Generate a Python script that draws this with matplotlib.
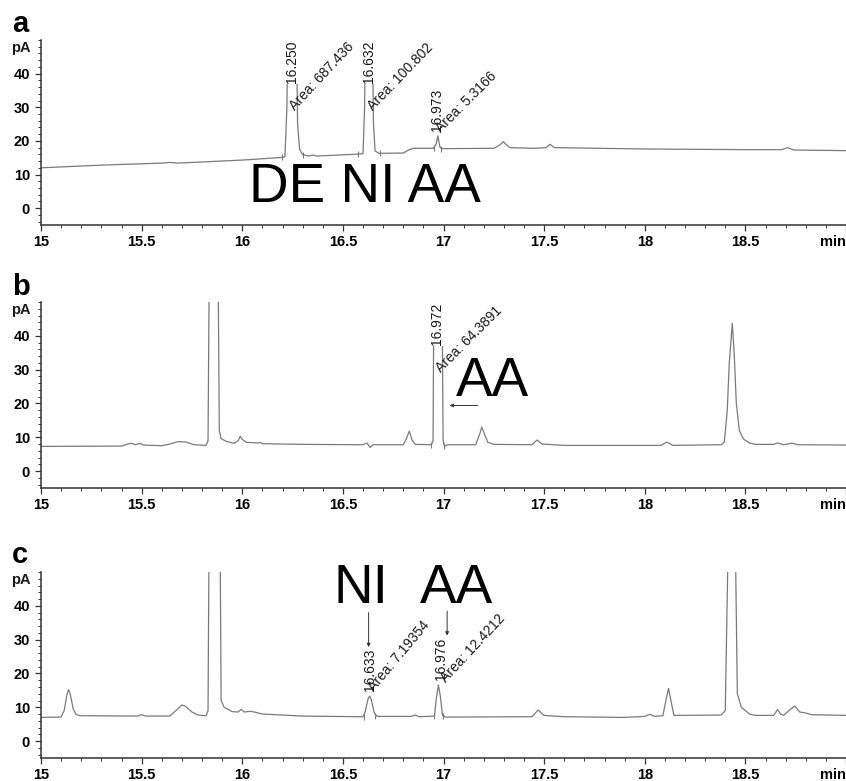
import numpy as np
import matplotlib
matplotlib.use('Agg')
import matplotlib.pyplot as plt
from matplotlib.ticker import MultipleLocator
import matplotlib.transforms as mtransforms

plt.rcParams['font.family'] = ['Liberation Sans', 'DejaVu Sans']

# ejes
xticks = [15, 15.5, 16, 16.5, 17, 17.5, 18, 18.5, 19]
xticklabels = ['15', '15.5', '16', '16.5', '17', '17.5', '18', '18.5', 'min']
yticks = [0, 10, 20, 30, 40]
yticklabels = ['0', '10', '20', '30', '40']

# traza a (tiempo en min, señal en pA)
t_a = [15.00, 15.30, 15.60, 15.64, 15.68, 16.00, 16.20, 16.212, 16.222, 16.228, 16.268,
       16.275, 16.285, 16.30, 16.33, 16.35, 16.37, 16.55, 16.60, 16.608, 16.613, 16.645,
       16.652, 16.66, 16.68, 16.80, 16.83, 16.85, 16.95, 16.963, 16.972, 16.982, 16.99,
       17.25, 17.28, 17.297, 17.31, 17.33, 17.45, 17.51, 17.53, 17.55, 18.00, 18.50,
       18.68, 18.71, 18.74, 19.00]
s_a = [12.0, 12.8, 13.4, 13.6, 13.4, 14.3, 15.1, 15.3, 30.0, 60.0, 60.0,
       25.0, 17.5, 15.9, 15.5, 15.8, 15.5, 16.0, 16.2, 30.0, 60.0, 60.0,
       25.0, 17.0, 16.3, 16.4, 17.4, 17.8, 17.8, 19.0, 21.5, 18.2, 17.7,
       17.8, 18.8, 19.8, 19.0, 18.0, 17.8, 18.0, 19.0, 18.0, 17.6, 17.4,
       17.4, 18.0, 17.3, 17.1]

# traza b
t_b = [15.00, 15.40, 15.43, 15.45, 15.47, 15.49, 15.51, 15.60, 15.64, 15.68, 15.72, 15.76,
       15.82, 15.830, 15.836, 15.880, 15.886, 15.895, 15.92, 15.96, 15.98, 15.99, 16.00,
       16.02, 16.08, 16.09, 16.10, 16.30, 16.60, 16.62, 16.635, 16.65, 16.80, 16.815,
       16.83, 16.845, 16.86, 16.94, 16.948, 16.953, 16.992, 16.998, 17.005, 17.02, 17.16,
       17.18, 17.19, 17.20, 17.22, 17.25, 17.44, 17.465, 17.49, 17.60, 18.08, 18.11,
       18.14, 18.38, 18.395, 18.41, 18.42, 18.435, 18.445, 18.455, 18.47, 18.49, 18.52,
       18.55, 18.64, 18.66, 18.69, 18.71, 18.73, 18.76, 19.00]
s_b = [7.3, 7.4, 8.0, 8.2, 7.8, 8.2, 7.7, 7.5, 8.0, 8.7, 8.6, 7.8,
       7.6, 9.0, 60.0, 60.0, 12.0, 9.6, 8.8, 8.2, 9.0, 10.3, 9.4,
       8.5, 8.3, 8.5, 8.1, 7.9, 7.8, 8.3, 7.0, 7.8, 7.8, 9.5,
       11.8, 9.0, 7.9, 7.8, 9.0, 60.0, 60.0, 9.0, 7.3, 7.8, 7.8,
       11.0, 13.0, 11.5, 8.5, 7.9, 7.8, 9.2, 8.0, 7.6, 7.6, 8.6,
       7.6, 7.8, 8.5, 18.0, 32.0, 43.7, 34.0, 20.0, 12.0, 9.5, 8.3,
       7.9, 7.9, 8.3, 7.8, 8.0, 8.3, 7.8, 7.7]

# traza c
t_c = [15.00, 15.10, 15.115, 15.13, 15.137, 15.145, 15.16, 15.175, 15.20, 15.48, 15.50,
       15.52, 15.64, 15.67, 15.70, 15.72, 15.75, 15.78, 15.82, 15.83, 15.835, 15.89,
       15.895, 15.91, 15.95, 15.98, 15.995, 16.01, 16.04, 16.06, 16.10, 16.30, 16.60,
       16.61, 16.625, 16.633, 16.64, 16.655, 16.67, 16.84, 16.86, 16.88, 16.955, 16.965,
       16.975, 16.985, 16.995, 17.01, 17.44, 17.47, 17.50, 17.60, 17.90, 18.00, 18.025,
       18.05, 18.09, 18.105, 18.118, 18.13, 18.145, 18.38, 18.40, 18.415, 18.45, 18.46,
       18.48, 18.52, 18.55, 18.64, 18.66, 18.675, 18.69, 18.72, 18.745, 18.77, 18.80,
       18.83, 19.00]
s_c = [7.0, 7.1, 9.0, 14.0, 15.2, 14.0, 9.5, 7.8, 7.5, 7.4, 7.8,
       7.4, 7.4, 9.0, 10.7, 10.2, 8.6, 7.7, 7.5, 9.0, 60.0, 60.0,
       12.0, 10.0, 8.7, 8.6, 9.4, 8.6, 8.8, 8.6, 8.0, 7.4, 7.2,
       8.5, 12.5, 13.3, 12.5, 8.5, 7.3, 7.3, 7.7, 7.2, 7.4, 13.0,
       16.6, 13.0, 7.6, 7.1, 7.2, 9.2, 7.6, 7.2, 7.0, 7.3, 7.9,
       7.3, 7.5, 12.0, 15.6, 12.0, 7.6, 7.7, 9.0, 60.0, 60.0, 14.0,
       10.0, 8.0, 7.6, 7.6, 9.3, 8.0, 7.6, 9.2, 10.4, 8.6, 8.3,
       7.8, 7.6]

# marcas de integracion
marcas_t_a = [16.198, 16.30, 16.575, 16.686, 16.955, 16.988]
marcas_s_a = [15.1, 15.9, 16.1, 16.3, 17.8, 17.7]
marcas_t_b = [16.94, 17.002]
marcas_s_b = [7.8, 7.5]
marcas_t_c = [16.603, 16.662, 16.952, 16.998]
marcas_s_c = [7.2, 7.3, 7.4, 7.5]

# etiquetas de tiempo de retencion: texto, tiempo, y, alineacion vertical
ret_a = [('16.250', 16.245, 49.8, 'top'), ('16.632', 16.628, 49.8, 'top'),
         ('16.973', 16.970, 22.8, 'bottom')]
ret_b = [('16.972', 16.970, 49.8, 'top')]
ret_c = [('16.633', 16.633, 14.8, 'bottom'), ('16.976', 16.990, 18.2, 'bottom')]

# etiquetas de area: texto, tiempo, y, angulo
area_a = [('Area: 687.436', 16.272, 28.3, 47), ('Area: 100.802', 16.660, 28.3, 46),
          ('Area: 5.3166', 16.997, 21.7, 45)]
area_b = [('Area: 64.3891', 16.997, 28.4, 45)]
area_c = [('Area: 7.19354', 16.668, 13.9, 50), ('Area: 12.4212', 17.022, 16.6, 47)]

# nombres de compuestos
nombres_a = [('DE NI AA', 16.032, 1.8)]
nombres_b = [('AA', 17.060, 22.1)]
nombres_c = [('NI', 16.454, 40.9), ('AA', 16.881, 40.9)]

# flechas: (x inicio, y inicio, x fin, y fin)
flechas_b = [(17.169, 19.4, 17.030, 19.4)]
flechas_c = [(16.628, 38.0, 16.628, 27.8), (17.018, 38.4, 17.018, 31.2)]

colorLinea = '#7a7a7a'
colorTexto = '#1a1a1a'


def dibujarPanel(ax, t, s, mt, ms, ret, area, nombres, flechas):
    ax.plot(t, s, color=colorLinea, lw=0.9, zorder=2)
    ax.plot(mt, ms, ls='none', marker='|', ms=5, mew=0.8, color=colorLinea, zorder=2)
    ax.set_xlim(15, 19)
    ax.set_ylim(-5, 50)
    for lado in ['top', 'right']:
        ax.spines[lado].set_visible(False)
    for lado in ['left', 'bottom']:
        ax.spines[lado].set_color('#333333')
        ax.spines[lado].set_linewidth(1.1)
    ax.set_xticks(xticks)
    ax.set_xticklabels(xticklabels, fontsize=10.5, fontweight='bold')
    ax.get_xticklabels()[-1].set_horizontalalignment('right')
    ax.set_yticks(yticks)
    ax.set_yticklabels(yticklabels, fontsize=10.5, fontweight='bold')
    ax.xaxis.set_minor_locator(MultipleLocator(0.1))
    ax.yaxis.set_minor_locator(MultipleLocator(2))
    ax.tick_params(which='major', length=4, width=0.9, color='#333333', pad=3)
    ax.tick_params(which='minor', length=2.2, width=0.7, color='#333333')
    ax.tick_params(axis='y', pad=4)
    trans = mtransforms.blended_transform_factory(ax.transAxes, ax.transData)
    ax.text(-0.013, 47.5, 'pA', transform=trans, ha='right', va='center',
            fontsize=10.5, fontweight='bold', color=colorTexto)
    for txt, x, y, va in ret:
        ax.text(x, y, txt, rotation=90, ha='center', va=va, fontsize=10,
                color=colorTexto, zorder=4,
                bbox=dict(facecolor='white', edgecolor='none', pad=0.6))
    for txt, x, y, ang in area:
        ax.text(x, y, txt, rotation=ang, rotation_mode='anchor', ha='left',
                va='bottom', fontsize=10, color=colorTexto, zorder=4)
    for txt, x, y in nombres:
        ax.text(x, y, txt, ha='left', va='baseline', fontsize=39.5, color='black', zorder=5)
    for x0, y0, x1, y1 in flechas:
        ax.annotate('', xy=(x1, y1), xytext=(x0, y0),
                    arrowprops=dict(arrowstyle='-|>', lw=0.7, color='#333333',
                                    mutation_scale=5, shrinkA=0, shrinkB=0))


fig = plt.figure(figsize=(8.46, 7.81), dpi=100)
izq = 41 / 846
ancho = 1 - izq
axA = fig.add_axes([izq, 1 - 225 / 781, ancho, 185 / 781])
axB = fig.add_axes([izq, 1 - 488 / 781, ancho, 186 / 781])
axC = fig.add_axes([izq, 1 - 758 / 781, ancho, 186 / 781])

dibujarPanel(axA, t_a, s_a, marcas_t_a, marcas_s_a, ret_a, area_a, nombres_a, [])
dibujarPanel(axB, t_b, s_b, marcas_t_b, marcas_s_b, ret_b, area_b, nombres_b, flechas_b)
dibujarPanel(axC, t_c, s_c, marcas_t_c, marcas_s_c, ret_c, area_c, nombres_c, flechas_c)

# letras de los paneles
fig.text(12 / 846, 1 - 32 / 781, 'a', fontsize=21, fontweight='bold', va='baseline')
fig.text(12 / 846, 1 - 295 / 781, 'b', fontsize=21, fontweight='bold', va='baseline')
fig.text(12 / 846, 1 - 563 / 781, 'c', fontsize=21, fontweight='bold', va='baseline')

fig.savefig('out.png', dpi=100)
